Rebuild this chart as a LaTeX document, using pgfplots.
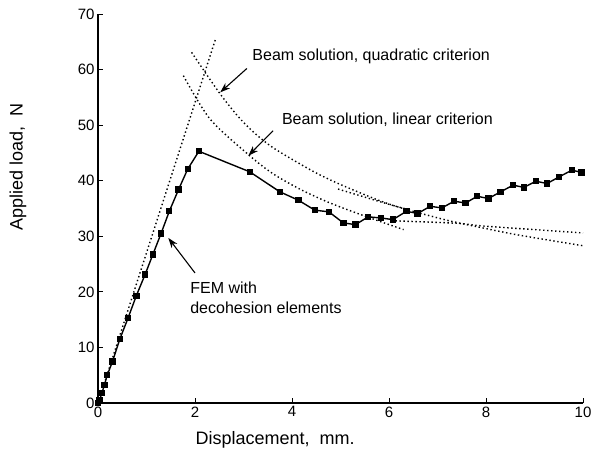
\documentclass[border=0pt]{standalone}
\usepackage{pgfplots}
\pgfplotsset{compat=1.18}
\usepackage{fontspec}
\setmainfont{Liberation Sans}
\usetikzlibrary{arrows.meta}
\tikzset{dotline/.style={black, line width=1.4pt, dash pattern=on 1.4pt off 2.6pt}}
\begin{document}
\begin{tikzpicture}
\begin{axis}[name=ax, scale only axis, width=485pt, height=389pt,
  xmin=0, xmax=10, ymin=0, ymax=70,
  axis lines=left, axis line style={-, line width=1.1pt},
  xtick={0,2,...,10}, ytick={0,10,...,70},
  tick align=inside, major tick length=5pt, tick style={line width=0.9pt, black},
  /pgf/number format/assume math mode=true,
  ticklabel style={font=\fontsize{15}{17}\selectfont},
  xlabel={Displacement,\ \ mm.}, ylabel={Applied load,\ \ N},
  label style={font=\fontsize{18}{20}\selectfont},
  xlabel style={at={(axis description cs:0.365,-0.095)}, anchor=center},
  ylabel style={at={(axis description cs:-0.165,0.607)}, anchor=center},
  clip=false]
% initial stiffness line
\addplot[dotline] coordinates {(0,0) (2.42,65.4)};
% linear criterion
\addplot[dotline, smooth] coordinates {
(1.76,58.9) (2.31,51.1) (3.10,44.7) (3.6,41.3) (4.16,38.5) (4.7,36.3) (5.2,34.6) (5.74,32.9) (6.3,31.2)};
% quadratic criterion
\addplot[dotline, smooth] coordinates {
(1.93,63.1) (2.52,55.6) (3.0,50.5) (3.55,46.3) (4.37,42.0) (4.85,39.9) (5.3,38.2) (5.81,36.4) (6.29,35.0) (7.19,32.9) (7.88,31.6) (8.56,30.4) (9.3,29.3) (10.0,28.3)};
% extra segments
\addplot[dotline, smooth] coordinates {(4.95,38.5) (5.9,36.0) (6.4,34.8)};
\addplot[dotline, smooth] coordinates {(6.05,32.8) (7.0,32.5) (7.46,32.3) (7.88,31.9) (8.5,31.5) (10.0,30.6)};
% FEM
\addplot[black, line width=1.4pt, mark=square*, mark size=2.5pt] coordinates {
(0,0) (0.03,0.5) (0.08,1.75) (0.13,3.2) (0.19,5.0) (0.30,7.5) (0.45,11.5) (0.62,15.3) (0.79,19.3) (0.97,23.1) (1.13,26.7) (1.30,30.5) (1.47,34.5) (1.66,38.4) (1.85,42.1) (2.08,45.3) (3.13,41.6) (3.75,38.0) (4.13,36.5) (4.47,34.7) (4.76,34.4) (5.06,32.4) (5.31,32.1) (5.57,33.5) (5.83,33.3) (6.08,33.0) (6.36,34.5) (6.59,34.1) (6.85,35.4) (7.09,35.1) (7.34,36.3) (7.58,36.0) (7.82,37.2) (8.05,36.8) (8.30,38.0) (8.56,39.2) (8.78,38.8) (9.03,39.9) (9.26,39.5) (9.51,40.7) (9.77,41.9) (9.97,41.5)};
% annotations
\node[anchor=west, font=\fontsize{16}{18}\selectfont, inner sep=0pt] at (axis cs:3.18,62.4) {Beam solution, quadratic criterion};
\node[anchor=west, font=\fontsize{16}{18}\selectfont, inner sep=0pt] at (axis cs:3.79,50.9) {Beam solution, linear criterion};
\node[anchor=west, align=left, font=\fontsize{16}{20}\selectfont, inner sep=0pt] at (axis cs:1.90,19.0) {FEM with\\decohesion elements};
\draw[-{Stealth[length=10pt,width=7pt,inset=3pt]}, line width=1.1pt] (axis cs:3.07,60.2) -- (axis cs:2.52,55.9);
\draw[-{Stealth[length=10pt,width=7pt,inset=3pt]}, line width=1.1pt] (axis cs:3.61,49.0) -- (axis cs:3.10,44.5);
\draw[-{Stealth[length=10pt,width=7pt,inset=3pt]}, line width=1.1pt] (axis cs:2.0,23.4) -- (axis cs:1.45,29.7);
\end{axis}
\pgfresetboundingbox
\path ([shift={(-98pt,-57pt)}]ax.south west) rectangle ([shift={(10pt,14pt)}]ax.north east);
\end{tikzpicture}
\end{document}
